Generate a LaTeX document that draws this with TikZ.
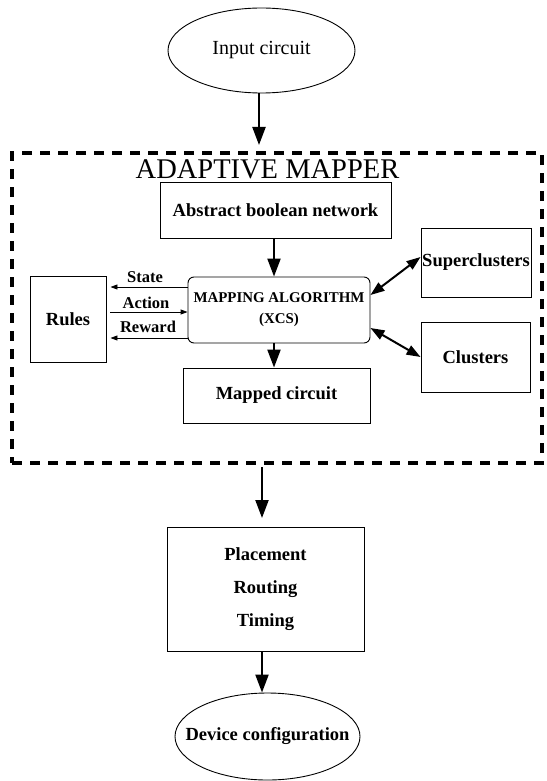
\documentclass[tikz,border=0pt]{standalone}
\usepackage{fontspec}
\setmainfont{Liberation Serif}
\usetikzlibrary{arrows.meta,shapes.geometric}
\begin{document}
\begin{tikzpicture}[x=1pt,y=-1pt,
  box/.style={draw,line width=0.9pt,rectangle,inner sep=0pt,font=\fontsize{18.5}{22}\selectfont\bfseries},
  oval/.style={draw,line width=0.9pt,ellipse,inner sep=0pt},
  big/.style={line width=2.2pt,-{Triangle[length=18pt,width=13pt]}},
  dbl/.style={line width=2pt,{Triangle[length=14pt,width=10pt]}-{Triangle[length=14pt,width=10pt]}},
  small/.style={line width=0.9pt,-{Triangle[length=7pt,width=5pt]}},
  lab/.style={font=\fontsize{16.5}{19}\selectfont\bfseries,inner sep=0pt}]
\useasboundingbox (0,0) rectangle (546,781);
\fill[white] (0,0) rectangle (546,781);
% nodes
\node[oval,minimum width=187pt,minimum height=85pt,font=\fontsize{20}{24}\selectfont] (inp) at (261.5,50.5) {\makebox[0pt]{Input circuit}};
\node[draw,line width=3.5pt,dash pattern=on 10pt off 8pt,minimum width=530pt,minimum height=310pt,inner sep=0pt] (frame) at (277,308) {};
\node[font=\fontsize{28.5}{31}\selectfont,anchor=base,inner sep=0pt] (title) at (267.5,178) {ADAPTIVE MAPPER};
\node[box,minimum width=231pt,minimum height=56pt] (abn) at (275.5,210) {\raisebox{-3pt}{Abstract boolean network}};
\node[box,rounded corners=6pt,minimum width=182pt,minimum height=66pt,align=center,font=\fontsize{14.9}{21}\selectfont\bfseries] (map) at (279,310) {MAPPING ALGORITHM\\(XCS)};
\node[box,minimum width=76pt,minimum height=86pt] (rules) at (68,319) {Rules};
\node[box,minimum width=110pt,minimum height=69pt] (super) at (476,262.5) {Superclusters};
\node[box,minimum width=109pt,minimum height=70pt] (clus) at (475.5,357) {Clusters};
\node[box,minimum width=187pt,minimum height=55pt] (mapped) at (276.5,395.5) {Mapped circuit};
\node[box,minimum width=197pt,minimum height=124pt,align=center,font=\fontsize{18.5}{33}\selectfont\bfseries] (prt) at (265.5,589) {Placement\\Routing\\Timing};
\node[oval,minimum width=185pt,minimum height=87pt,font=\fontsize{18.5}{22}\selectfont\bfseries] (dev) at (267.5,736.5) {\makebox[0pt]{Device configuration}};
% labels
\node[lab] (lstate) at (145,277) {State};
\node[lab] (laction) at (146,303) {Action};
\node[lab] (lreward) at (148,327) {Reward};
% helper coordinates
\coordinate (c1) at (259,145);
\coordinate (xa) at (274,0);
\coordinate (c2) at (262,467);
\coordinate (c3) at (262,518);
\coordinate (ys) at (0,287);
\coordinate (ya) at (0,312);
\coordinate (yr) at (0,338);
\coordinate (ysu1) at (0,295);
\coordinate (ysu2) at (0,257);
\coordinate (ycl1) at (0,328);
\coordinate (ycl2) at (0,357);
% connectors
\draw[big] (c1 |- inp.south) -- (c1);
\draw[big] (xa |- abn.south) -- (xa |- map.north);
\draw[big] (xa |- map.south) -- (xa |- mapped.north);
\draw[big] (c2) -- (c3);
\draw[big] (c2 |- prt.south) -- (c2 |- dev.north);
\draw[small] (map.west |- ys) -- ([xshift=4pt]rules.east |- ys);
\draw[small] ([xshift=4pt]rules.east |- ya) -- (map.west |- ya);
\draw[small] (map.west |- yr) -- ([xshift=4pt]rules.east |- yr);
\draw[dbl] (map.east |- ysu1) -- (super.west |- ysu2);
\draw[dbl] (map.east |- ycl1) -- (clus.west |- ycl2);
\end{tikzpicture}
\end{document}
